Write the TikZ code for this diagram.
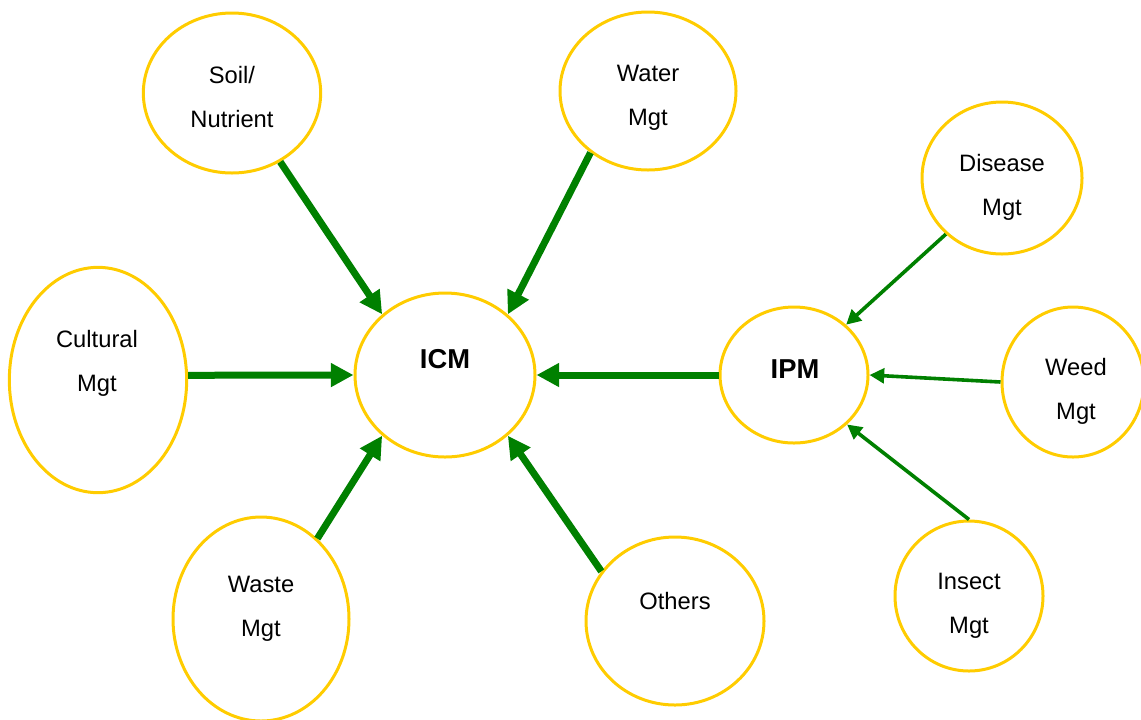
\documentclass[tikz,border=0pt]{standalone}
\usepackage{fontspec}
\setmainfont{Liberation Sans}
\usetikzlibrary{shapes.geometric,arrows.meta}

\definecolor{ringgold}{RGB}{255,204,0}
\definecolor{arrowgreen}{RGB}{0,128,0}

\tikzset{
  bubble/.style={ellipse, draw=ringgold, line width=2.25pt, inner sep=0pt},
  bubbletext/.style={align=center, inner sep=0pt, font=\fontsize{17.8}{33}\selectfont},
  hubtext/.style={inner sep=0pt, font=\fontsize{20.5}{24}\selectfont\bfseries},
  bigarrow/.style={draw=arrowgreen, line width=5.25pt, -{Triangle[length=17pt,width=17pt]}},
  smallarrow/.style={draw=arrowgreen, line width=2.7pt, -{Triangle[length=11pt,width=11pt]}},
}

\begin{document}
\begin{tikzpicture}[x=0.75pt,y=0.75pt,yscale=-1,xscale=1]
\useasboundingbox (0,0) rectangle (1141,719);

%Shape: Ellipse [soil]
\node (soil) [bubble, minimum width=133pt, minimum height=120pt] at (232,93) {};
%Shape: Ellipse [water]
\node (water) [bubble, minimum width=132pt, minimum height=118.5pt] at (648,91) {};
%Shape: Ellipse [disease]
\node (disease) [bubble, minimum width=120pt, minimum height=114pt] at (1002,178) {};
%Shape: Ellipse [cultural]
\node (cultural) [bubble, minimum width=133pt, minimum height=169pt] at (98,380) {};
%Shape: Ellipse [icm]
\node (icm) [bubble, minimum width=135pt, minimum height=123pt] at (445,375) {};
%Shape: Ellipse [ipm]
\node (ipm) [bubble, minimum width=111pt, minimum height=102pt] at (794,375) {};
%Shape: Ellipse [weed]
\node (weed) [bubble, minimum width=106.5pt, minimum height=112.5pt] at (1073,382) {};
%Shape: Ellipse [waste]
\node (waste) [bubble, minimum width=132pt, minimum height=153pt] at (261,619) {};
%Shape: Ellipse [others]
\node (others) [bubble, minimum width=133.5pt, minimum height=126pt] at (675,621) {};
%Shape: Ellipse [insect]
\node (insect) [bubble, minimum width=111pt, minimum height=112.5pt] at (969,596) {};

% Text Node
\node (soil-t) [bubbletext] at (232,97) {Soil/\\Nutrient};
% Text Node
\node (water-t) [bubbletext] at (648,97.5) {Water\\Mgt};
% Text Node
\node (disease-t) [bubbletext] at (1002,187) {Disease\\Mgt};
% Text Node
\node (cultural-t) [bubbletext] at (97,363) {Cultural\\Mgt};
% Text Node
\node (icm-t) [hubtext] at (445,359) {ICM};
% Text Node
\node (ipm-t) [hubtext] at (795,369) {IPM};
% Text Node
\node (weed-t) [bubbletext] at (1076,391.5) {Weed\\Mgt};
% Text Node
\node (waste-t) [bubbletext] at (261,609) {Waste\\Mgt};
% Text Node
\node (others-t) [bubbletext] at (675,601) {Others};
% Text Node
\node (insect-t) [bubbletext] at (969,605.5) {Insect\\Mgt};

%Straight Lines [into ICM]
\draw [bigarrow] (soil.-55) -- (icm.136);
\draw [bigarrow] (water.-133) -- (icm.44);
\draw [bigarrow] (cultural.3) -- (icm.west);
\draw [bigarrow] (waste.55) -- (icm.-136);
\draw [bigarrow] (others.146) -- (icm.-44);
\draw [bigarrow] (ipm.west) -- (icm.east);
%Straight Lines [into IPM]
\draw [smallarrow] (disease.-135) -- (ipm.44);
\draw [smallarrow] (weed.west) -- (ipm.east);
\draw [smallarrow] (insect.north) -- (ipm.-43);

\end{tikzpicture}
\end{document}
